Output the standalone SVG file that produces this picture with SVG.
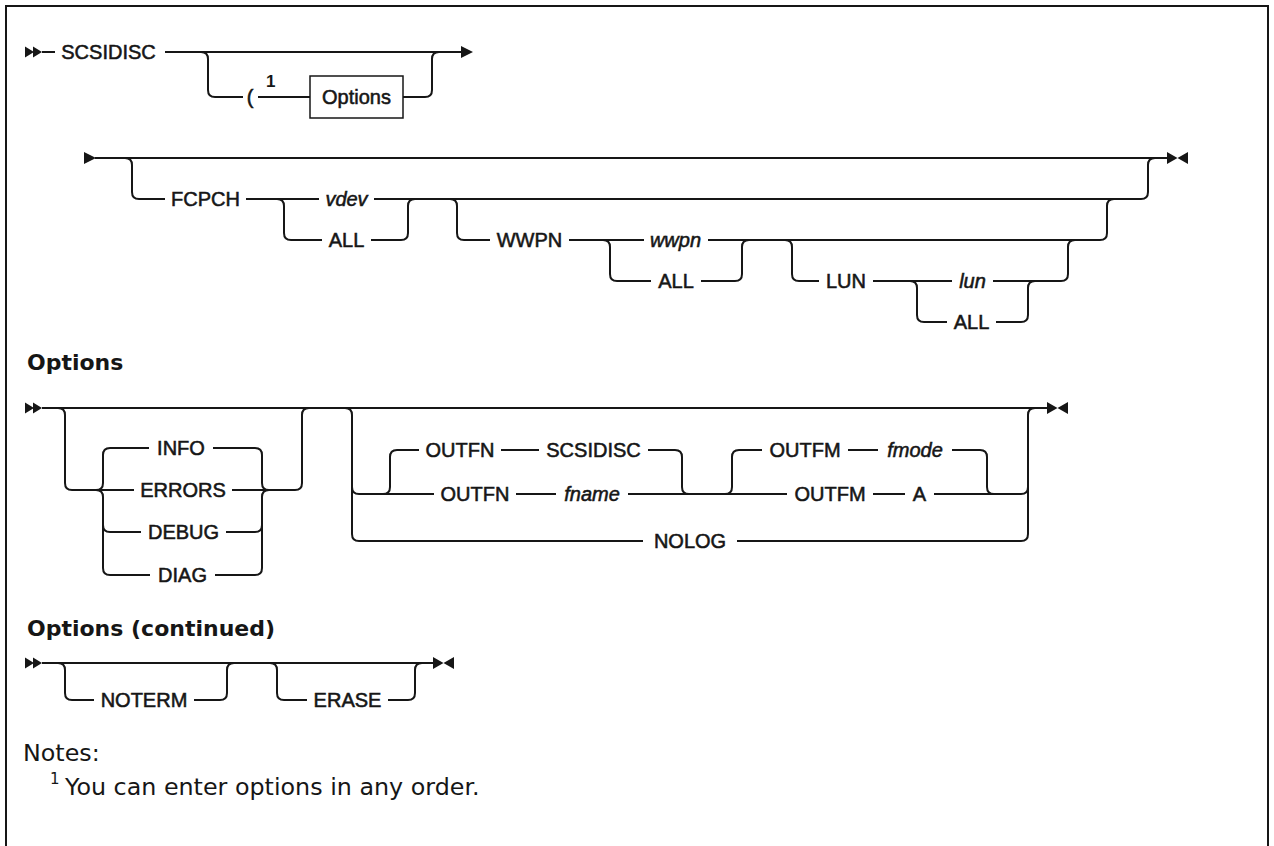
<svg xmlns="http://www.w3.org/2000/svg" xmlns:xlink="http://www.w3.org/1999/xlink" width="1274" height="846" viewBox="0 0 1274 846">
<style>
.ln{fill:none;stroke:#161616;stroke-width:2}
.frame{fill:none;stroke:#161616;stroke-width:2}
.box{fill:#fff;stroke:#161616;stroke-width:1.5}
.lbl{font-family:"Liberation Sans",Arial,sans-serif;font-size:20px;fill:#161616;stroke:#161616;stroke-width:0.55;text-anchor:middle}
.it{font-style:italic}
.sup{font-family:"Liberation Sans",Arial,sans-serif;font-size:17px;font-weight:bold;fill:#161616}
.hdr{font-family:"DejaVu Sans",sans-serif;font-size:22px;font-weight:bold;fill:#161616}
.note{font-family:"DejaVu Sans",sans-serif;font-size:23.8px;fill:#161616}
.nsup{font-family:"DejaVu Sans",sans-serif;font-size:15px;fill:#161616}
.mk{fill:#161616}
</style>
<defs>
<path id="dbl" d="M0,-5.5 L9,0 L0,5.5Z M8,-5.5 L17,0 L8,5.5Z"/>
<path id="arr" d="M0,-6 L12,0 L0,6Z"/>
<path id="bow" d="M0,-6 L10.5,0 L0,6Z M21,-6 L10.5,0 L21,6Z"/>
</defs>
<rect width="1274" height="846" fill="#fff"/>
<path class="frame" d="M6,846 V6 H1268 V846"/>

<g id="connectors">
  <!-- row 1 -->
  <use href="#dbl" x="25" y="52" class="mk"/>
  <path class="ln" d="M42,52 H55"/>
  <path class="ln" d="M165,52 H462"/>
  <use href="#arr" x="461" y="52" class="mk"/>
  <path class="ln" d="M201,52 Q208,52 208,59 V90 Q208,97 215,97 H243"/>
  <path class="ln" d="M258,97 H310"/>
  <path class="ln" d="M403,97 H425 Q432,97 432,90 V59 Q432,52 439,52"/>
  <!-- row 2 -->
  <use href="#arr" x="84" y="158" class="mk"/>
  <path class="ln" d="M95,158 H1167"/>
  <use href="#bow" x="1167" y="158" class="mk"/>
  <path class="ln" d="M125,158 Q132,158 132,165 V192 Q132,199 139,199 H165"/>
  <path class="ln" d="M246,199 H319"/>
  <path class="ln" d="M374,199 H1141 Q1148,199 1148,192 V165 Q1148,158 1155,158"/>
  <path class="ln" d="M277,199 Q284,199 284,206 V233 Q284,240 291,240 H322"/>
  <path class="ln" d="M371,240 H401 Q408,240 408,233 V206 Q408,199 415,199"/>
  <path class="ln" d="M450,199 Q457,199 457,206 V233 Q457,240 464,240 H490"/>
  <path class="ln" d="M569,240 H644"/>
  <path class="ln" d="M708,240 H1100 Q1107,240 1107,233 V206 Q1107,199 1114,199"/>
  <path class="ln" d="M603,240 Q610,240 610,247 V274 Q610,281 617,281 H651"/>
  <path class="ln" d="M701,281 H735 Q742,281 742,274 V247 Q742,240 749,240"/>
  <path class="ln" d="M785,240 Q792,240 792,247 V274 Q792,281 799,281 H819"/>
  <path class="ln" d="M873,281 H952"/>
  <path class="ln" d="M993,281 H1061 Q1068,281 1068,274 V247 Q1068,240 1075,240"/>
  <path class="ln" d="M910,281 Q917,281 917,288 V315 Q917,322 924,322 H947"/>
  <path class="ln" d="M996,322 H1021 Q1028,322 1028,315 V288 Q1028,281 1035,281"/>
  <!-- options -->
  <use href="#dbl" x="25" y="408" class="mk"/>
  <path class="ln" d="M42,408 H1047"/>
  <use href="#bow" x="1047" y="408" class="mk"/>
  <path class="ln" d="M58,408 Q65,408 65,415 V483 Q65,490 72,490 H134"/>
  <path class="ln" d="M232,490 H295 Q302,490 302,483 V415 Q302,408 309,408"/>
  <path class="ln" d="M96,490 Q103,490 103,483 V455 Q103,448 110,448 H149"/>
  <path class="ln" d="M213,448 H255 Q262,448 262,455 V483 Q262,490 269,490"/>
  <path class="ln" d="M96,490 Q103,490 103,497 V568 Q103,575 110,575 H150"/>
  <path class="ln" d="M215,575 H255 Q262,575 262,568 V497 Q262,490 269,490"/>
  <path class="ln" d="M103,525 Q103,532 110,532 H141"/>
  <path class="ln" d="M226,532 H255 Q262,532 262,525"/>
  <path class="ln" d="M345,408 Q352,408 352,415 V534 Q352,541 359,541 H643"/>
  <path class="ln" d="M737,541 H1021 Q1028,541 1028,534 V415 Q1028,408 1035,408"/>
  <path class="ln" d="M352,487 Q352,494 359,494 H434"/>
  <path class="ln" d="M516,494 H556"/>
  <path class="ln" d="M628,494 H787"/>
  <path class="ln" d="M873,494 H905"/>
  <path class="ln" d="M934,494 H1021 Q1028,494 1028,487"/>
  <path class="ln" d="M383,494 Q390,494 390,487 V457 Q390,450 397,450 H419"/>
  <path class="ln" d="M501,450 H539"/>
  <path class="ln" d="M648,450 H675 Q682,450 682,457 V487 Q682,494 689,494"/>
  <path class="ln" d="M725,494 Q732,494 732,487 V457 Q732,450 739,450 H762"/>
  <path class="ln" d="M848,450 H878"/>
  <path class="ln" d="M952,450 H980 Q987,450 987,457 V487 Q987,494 994,494"/>
  <!-- options continued -->
  <use href="#dbl" x="25" y="663" class="mk"/>
  <path class="ln" d="M42,663 H433"/>
  <use href="#bow" x="433" y="663" class="mk"/>
  <path class="ln" d="M58,663 Q65,663 65,670 V693 Q65,700 72,700 H94"/>
  <path class="ln" d="M194,700 H220 Q227,700 227,693 V670 Q227,663 234,663"/>
  <path class="ln" d="M270,663 Q277,663 277,670 V693 Q277,700 284,700 H307"/>
  <path class="ln" d="M388,700 H408 Q415,700 415,693 V670 Q415,663 422,663"/>
</g>

<g id="n-scsidisc"><text class="lbl" x="108.5" y="59">SCSIDISC</text></g>
<g id="n-paren"><text class="lbl" x="250" y="104">(</text><text class="sup" x="266" y="87">1</text></g>
<g id="n-options-ref"><rect class="box" x="310" y="76" width="93" height="42"/><text class="lbl" x="356.5" y="104">Options</text></g>

<g id="n-fcpch"><text class="lbl" x="205.5" y="206">FCPCH</text></g>
<g id="n-vdev"><text class="lbl it" x="346.5" y="206">vdev</text></g>
<g id="n-all1"><text class="lbl" x="346.5" y="247">ALL</text></g>
<g id="n-wwpn-kw"><text class="lbl" x="529.5" y="247">WWPN</text></g>
<g id="n-wwpn"><text class="lbl it" x="675.5" y="247">wwpn</text></g>
<g id="n-all2"><text class="lbl" x="676" y="288">ALL</text></g>
<g id="n-lun-kw"><text class="lbl" x="846" y="288">LUN</text></g>
<g id="n-lun"><text class="lbl it" x="972.5" y="288">lun</text></g>
<g id="n-all3"><text class="lbl" x="971.5" y="329">ALL</text></g>

<g id="h-options"><text class="hdr" x="27" y="370">Options</text></g>
<g id="n-info"><text class="lbl" x="181" y="455">INFO</text></g>
<g id="n-errors"><text class="lbl" x="183" y="497">ERRORS</text></g>
<g id="n-debug"><text class="lbl" x="183.5" y="539">DEBUG</text></g>
<g id="n-diag"><text class="lbl" x="182.5" y="582">DIAG</text></g>
<g id="n-outfn1"><text class="lbl" x="460" y="457">OUTFN</text></g>
<g id="n-scsidisc2"><text class="lbl" x="593.5" y="457">SCSIDISC</text></g>
<g id="n-outfm1"><text class="lbl" x="805" y="457">OUTFM</text></g>
<g id="n-fmode"><text class="lbl it" x="915" y="457">fmode</text></g>
<g id="n-outfn2"><text class="lbl" x="475" y="501">OUTFN</text></g>
<g id="n-fname"><text class="lbl it" x="592" y="501">fname</text></g>
<g id="n-outfm2"><text class="lbl" x="830" y="501">OUTFM</text></g>
<g id="n-a"><text class="lbl" x="919.5" y="501">A</text></g>
<g id="n-nolog"><text class="lbl" x="690" y="548">NOLOG</text></g>

<g id="h-options-cont"><text class="hdr" x="27" y="636">Options (continued)</text></g>
<g id="n-noterm"><text class="lbl" x="144" y="707">NOTERM</text></g>
<g id="n-erase"><text class="lbl" x="347.5" y="707">ERASE</text></g>

<g id="notes">
  <text class="note" x="23" y="761">Notes:</text>
  <text class="nsup" x="50" y="784">1</text>
  <text class="note" x="65" y="795">You can enter options in any order.</text>
</g>
</svg>
